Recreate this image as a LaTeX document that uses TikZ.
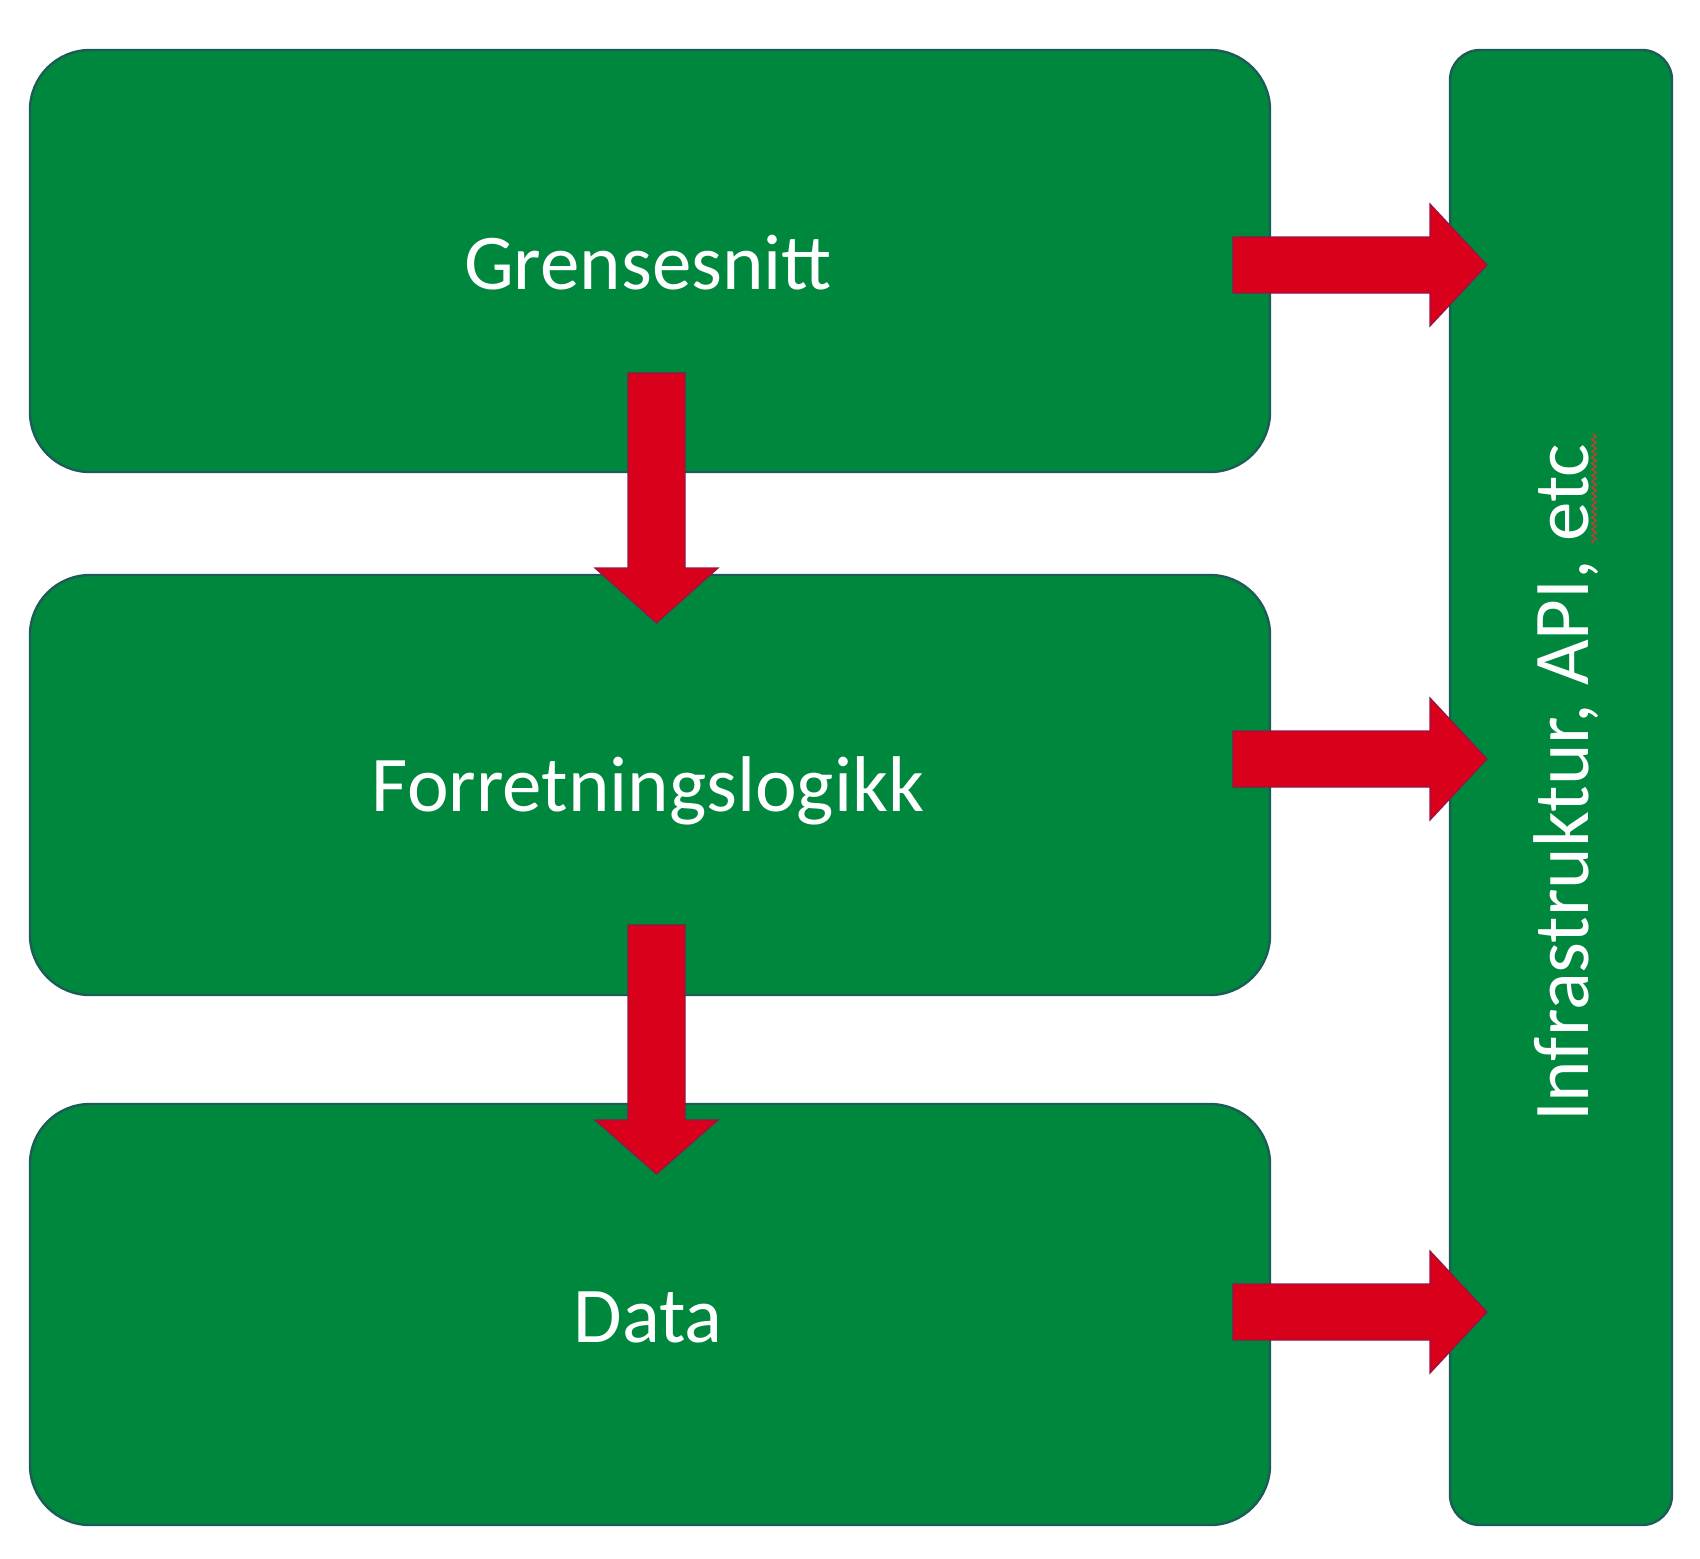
\documentclass[tikz,border=0pt]{standalone}
\usepackage{fontspec}
\setmainfont{Carlito}
\usetikzlibrary{decorations.pathmorphing}
\definecolor{boxgreen}{RGB}{0,135,62}
\definecolor{boxedge}{RGB}{28,92,88}
\definecolor{arrred}{RGB}{217,0,27}
\definecolor{arredge}{RGB}{150,20,70}
\definecolor{spellred}{RGB}{200,60,50}
\tikzset{
  layer/.style={draw=boxedge, line width=1.2pt, fill=boxgreen, rounded corners=30pt,
    inner sep=0pt},
  column/.style={draw=boxedge, line width=1.2pt, fill=boxgreen, rounded corners=15pt,
    inner sep=0pt},
  blockarrow/.style={fill=arrred, draw=arredge, line width=0.6pt, line join=miter},
  hlabel/.style={text=white, font=\fontsize{39.5}{46}\selectfont, inner sep=0pt},
  vlabel/.style={hlabel, rotate=90}
}
\begin{document}
\begin{tikzpicture}[x=0.5pt, y=-0.5pt]
\useasboundingbox (0,0) rectangle (1700,1558);
\fill[white] (0,0) rectangle (1700,1558);
% layers
\node[layer, minimum width=620pt, minimum height=211pt] (g) at (650,261) {};
\node[layer, minimum width=620pt, minimum height=210pt] (f) at (650,785) {};
\node[layer, minimum width=620pt, minimum height=210.5pt] (d) at (650,1314.5) {};
\node[column, minimum width=111pt, minimum height=737.5pt] (infra) at (1561,787.5) {};
% labels
\node[hlabel] (gl) at (648,263) {Grensesnitt};
\node[hlabel] (fl) at (648,791) {Forretningslogikk};
\node[hlabel] (dl) at (648,1317) {Data};
\node[vlabel] (il) at (1566,783) {Infrastruktur, API, etc};
% spell-check underline under "etc"
\coordinate (sp1) at (1594,543);
\coordinate (sp2) at (1594,433);
\draw[spellred, line width=0.6pt, decorate, decoration={zigzag, amplitude=1.2pt, segment length=3pt}] (sp1) -- (sp2);
% down arrows
\draw[blockarrow] (628,373) -- (685,373) -- (685,568) -- (718,568) -- (656.5,623) -- (595,568) -- (628,568) -- cycle;
\draw[blockarrow] (628,925) -- (685,925) -- (685,1120) -- (718,1120) -- (656.5,1174) -- (595,1120) -- (628,1120) -- cycle;
% right arrows
\foreach \yy in {265,759,1312} {
  \draw[blockarrow] (1233,\yy-28) -- (1430,\yy-28) -- (1430,\yy-61) -- (1487,\yy) -- (1430,\yy+61) -- (1430,\yy+28) -- (1233,\yy+28) -- cycle;
}
\end{tikzpicture}
\end{document}
